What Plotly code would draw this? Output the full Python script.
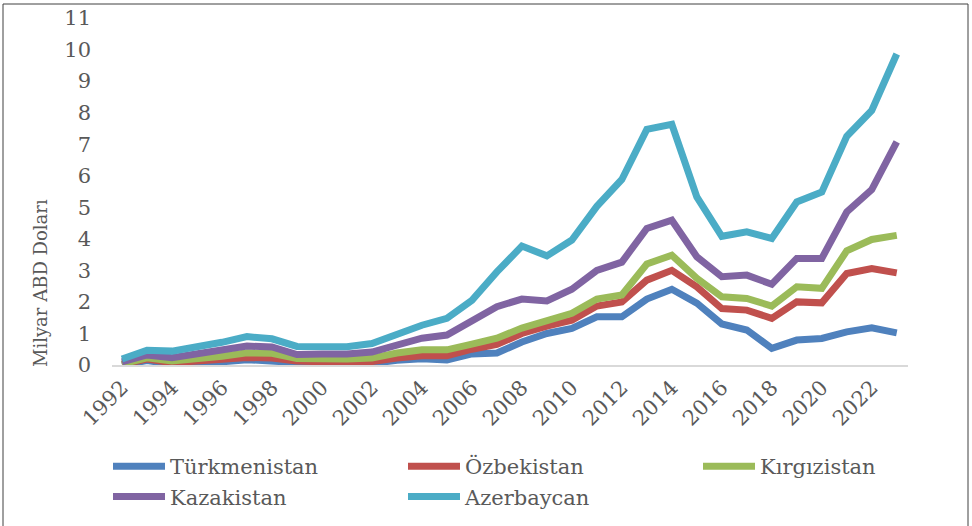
import plotly.graph_objects as go

years = list(range(1992, 2024))

# Individual (non-cumulative) values, Milyar ABD Doları; chart is a stacked line chart
turkmenistan = [0.00, 0.14, 0.03, 0.05, 0.10, 0.17, 0.12, 0.05, 0.03, 0.04, 0.05, 0.15, 0.20, 0.16, 0.35, 0.38,
                0.73, 1.00, 1.16, 1.53, 1.53, 2.09, 2.40, 1.96, 1.30, 1.11, 0.53, 0.79, 0.84, 1.05, 1.18, 1.02]
ozbekistan = [0.02, 0.05, 0.04, 0.08, 0.09, 0.07, 0.10, 0.08, 0.07, 0.06, 0.06, 0.07, 0.09, 0.13, 0.15, 0.27,
              0.27, 0.23, 0.26, 0.34, 0.47, 0.60, 0.60, 0.52, 0.49, 0.63, 0.95, 1.21, 1.13, 1.85, 1.88, 1.90]
kirgizistan = [0.01, 0.04, 0.06, 0.06, 0.09, 0.15, 0.15, 0.08, 0.09, 0.09, 0.11, 0.16, 0.19, 0.19, 0.16, 0.20,
               0.17, 0.19, 0.22, 0.22, 0.22, 0.51, 0.48, 0.27, 0.37, 0.37, 0.39, 0.48, 0.46, 0.72, 0.92, 1.19]
kazakistan = [0.07, 0.09, 0.10, 0.16, 0.19, 0.21, 0.20, 0.12, 0.16, 0.16, 0.19, 0.25, 0.37, 0.47, 0.71, 1.00,
              0.92, 0.61, 0.76, 0.91, 1.04, 1.13, 1.11, 0.68, 0.64, 0.74, 0.69, 0.90, 0.95, 1.23, 1.58, 2.96]
azerbaycan = [0.09, 0.15, 0.21, 0.21, 0.25, 0.30, 0.26, 0.26, 0.25, 0.23, 0.27, 0.34, 0.41, 0.53, 0.68, 1.10,
              1.68, 1.43, 1.56, 2.03, 2.62, 3.14, 3.04, 1.90, 1.28, 1.37, 1.45, 1.79, 2.10, 2.40, 2.51, 2.79]

series_names = ["Türkmenistan", "Özbekistan", "Kırgızistan", "Kazakistan", "Azerbaycan"]
series_values = [turkmenistan, ozbekistan, kirgizistan, kazakistan, azerbaycan]
colors = ["#4F81BD", "#C0504D", "#9BBB59", "#8064A2", "#4BACC6"]

y_ticks = list(range(0, 12))
x_ticks = list(range(1992, 2024, 2))

FONT = "DejaVu Serif"
TXT = "#595959"
FS = 21

fig = go.Figure()
for name, vals, col in zip(series_names, series_values, colors):
    fig.add_trace(go.Scatter(
        x=years, y=vals, name=name, mode="lines",
        stackgroup="one", fill="none",
        line=dict(color=col, width=7),
        hoverinfo="x+y+name",
    ))

W, H = 972, 526
L, R, T, B = 112, 64, 18, 161
pw, ph = W - L - R, H - T - B


def px(xp):
    return (xp - L) / pw


def py(yp):
    return (H - B - yp) / ph


fig.update_layout(
    width=W, height=H,
    margin=dict(l=L, r=R, t=T, b=B, autoexpand=False),
    paper_bgcolor="white", plot_bgcolor="white",
    font=dict(family=FONT, size=FS, color=TXT),
    xaxis=dict(
        range=[1991.6, 2023.45], tickvals=x_ticks, ticktext=[str(v) for v in x_ticks],
        tickangle=-45, showgrid=False, zeroline=False, automargin=False,
        showline=True, linecolor="#D9D9D9", linewidth=2, ticks="",
        tickfont=dict(family=FONT, size=FS, color=TXT),
    ),
    yaxis=dict(
        range=[0, 11], tickvals=y_ticks, showgrid=False, zeroline=False, automargin=False,
        showline=False, ticks="", ticklabelstandoff=20,
        tickfont=dict(family=FONT, size=FS, color=TXT),
    ),
    legend=dict(
        orientation="h", x=px(108), y=py(446), xanchor="left", yanchor="top",
        itemwidth=52, entrywidth=228, entrywidthmode="pixels",
        font=dict(family=FONT, size=FS, color=TXT),
        bgcolor="rgba(0,0,0,0)", tracegroupgap=0,
    ),
    showlegend=True,
    annotations=[dict(
        text="Milyar ABD Doları", xref="paper", yref="paper",
        x=px(40), y=py(283), xanchor="center", yanchor="middle",
        textangle=-90, showarrow=False,
        font=dict(family=FONT, size=18, color=TXT),
    )],
    shapes=[dict(
        type="rect", xref="paper", yref="paper",
        x0=px(3), x1=px(968), y0=py(540), y1=py(4),
        line=dict(color="#404040", width=1), fillcolor="rgba(0,0,0,0)", layer="below",
    )],
)

fig.write_html(
    "out.html",
    config={"displayModeBar": False},
    post_script="document.body.style.margin='0';document.body.style.padding='0';"
                "document.body.style.overflow='hidden';",
)
